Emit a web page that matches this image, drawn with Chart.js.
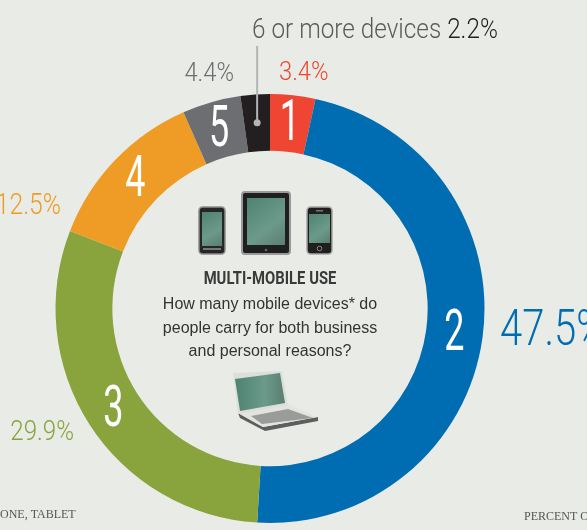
<!DOCTYPE html>
<html>
<head>
<meta charset="utf-8">
<script src="https://cdn.jsdelivr.net/npm/chart.js@4.4.1/dist/chart.umd.min.js"></script>
<style>
  html, body { margin: 0; padding: 0; background: #e9ece6; overflow: hidden; }
  canvas { display: block; }
</style>
</head>
<body>
<canvas id="donut" width="587" height="530"></canvas>
<script>
// number of devices carried, clockwise from the top
var deviceLabels = ["1", "2", "3", "4", "5", "6 or more devices"];
var devicePercent = [3.4, 47.5, 29.9, 12.5, 4.4, 2.2];
var segmentColors = ["#ee4632", "#006db2", "#89a33d", "#ee9c25", "#6d6e71", "#231f20"];

// where the outside percent labels sit (layout only)
var pctSpots = [
    { x: 279, y: 74, align: "left", size: 25, sx: 0.95 },
    { x: 500, y: 332, align: "left", size: 50, sx: 0.8 },
    { x: 74, y: 433, align: "right", size: 28, sx: 0.86 },
    { x: 61, y: 207, align: "right", size: 29, sx: 0.85 },
    { x: 234, y: 75, align: "right", size: 25, sx: 0.95 }
];

var din = "Roboto, 'DejaVu Sans', sans-serif";

// squeeze text sideways so it reads like a condensed face
function condensed(ctx, text, x, y, sx, align) {
    var w = ctx.measureText(text).width * sx;
    var left = x;
    if (align === "center") left = x - w / 2;
    if (align === "right") left = x - w;
    ctx.save();
    ctx.translate(left, y);
    ctx.scale(sx, 1);
    ctx.textAlign = "left";
    ctx.fillText(text, 0, 0);
    ctx.restore();
    return w;
}

function screenGrad(ctx, x1, y1, x2, y2) {
    var g = ctx.createLinearGradient(x1, y1, x2, y2);
    g.addColorStop(0, "#4f8271");
    g.addColorStop(0.6, "#6c9a8a");
    g.addColorStop(1, "#5a7d72");
    return g;
}

function rrect(ctx, x, y, w, h, r) {
    ctx.beginPath();
    ctx.moveTo(x + r, y);
    ctx.lineTo(x + w - r, y);
    ctx.quadraticCurveTo(x + w, y, x + w, y + r);
    ctx.lineTo(x + w, y + h - r);
    ctx.quadraticCurveTo(x + w, y + h, x + w - r, y + h);
    ctx.lineTo(x + r, y + h);
    ctx.quadraticCurveTo(x, y + h, x, y + h - r);
    ctx.lineTo(x, y + r);
    ctx.quadraticCurveTo(x, y, x + r, y);
    ctx.closePath();
}

function poly(ctx, pts, fill) {
    ctx.beginPath();
    ctx.moveTo(pts[0][0], pts[0][1]);
    for (var i = 1; i < pts.length; i++) ctx.lineTo(pts[i][0], pts[i][1]);
    ctx.closePath();
    ctx.fillStyle = fill;
    ctx.fill();
}

function drawDevices(ctx) {
    // left phone
    rrect(ctx, 199, 207, 26, 47, 4);
    ctx.fillStyle = "#262626"; ctx.fill();
    ctx.strokeStyle = "#8d8d8d"; ctx.lineWidth = 1.5; ctx.stroke();
    ctx.fillStyle = screenGrad(ctx, 202, 212, 222, 246);
    ctx.fillRect(202, 212, 20, 34);
    ctx.fillStyle = "#777"; ctx.fillRect(203, 248, 18, 2);

    // tablet
    rrect(ctx, 242, 192, 48, 62, 3);
    ctx.fillStyle = "#1f1f1f"; ctx.fill();
    ctx.strokeStyle = "#9a9a9a"; ctx.lineWidth = 2; ctx.stroke();
    ctx.fillStyle = screenGrad(ctx, 247, 198, 285, 246);
    ctx.fillRect(247, 198, 38, 47);
    ctx.beginPath(); ctx.arc(266, 250, 1.3, 0, Math.PI * 2);
    ctx.fillStyle = "#666"; ctx.fill();

    // right phone
    rrect(ctx, 307, 207, 25, 47, 4);
    ctx.fillStyle = "#1f1f1f"; ctx.fill();
    ctx.strokeStyle = "#a5a5a5"; ctx.lineWidth = 1.5; ctx.stroke();
    ctx.fillStyle = screenGrad(ctx, 309, 214, 330, 243);
    ctx.fillRect(309, 214, 21, 29);
    ctx.fillStyle = "#777"; ctx.fillRect(316, 210, 7, 1.5);
    ctx.beginPath(); ctx.arc(319.5, 248.5, 2.3, 0, Math.PI * 2);
    ctx.strokeStyle = "#888"; ctx.lineWidth = 1; ctx.stroke();

    // laptop
    poly(ctx, [[240, 418], [265, 431], [318, 421], [318, 417], [263, 427], [238, 413]], "#5e5e5e");
    poly(ctx, [[238, 413], [287, 404], [317, 417], [263, 427]], "#e3e4e0");
    poly(ctx, [[251, 416], [288, 409], [313, 418], [262, 424]], "#9a9c99");
    poly(ctx, [[233, 373], [282, 371], [288, 405], [238, 414]], "#dcdedb");
    ctx.beginPath();
    ctx.moveTo(235, 379); ctx.lineTo(280, 373); ctx.lineTo(285, 403); ctx.lineTo(240, 411);
    ctx.closePath();
    ctx.fillStyle = screenGrad(ctx, 235, 390, 285, 390);
    ctx.fill();
}

var ringText = {
    id: "ringText",
    afterDraw: function (chart) {
        var ctx = chart.ctx;
        var arcs = chart.getDatasetMeta(0).data;
        ctx.save();

        drawDevices(ctx);

        // centre text
        ctx.textBaseline = "middle";
        ctx.fillStyle = "#3a3a3a";
        ctx.font = "bold 19px " + din;
        condensed(ctx, "MULTI-MOBILE USE", 270, 279, 0.78, "center");
        ctx.fillStyle = "#333";
        ctx.font = "16px 'Liberation Sans', Arial, sans-serif";
        ctx.textAlign = "center";
        ctx.fillText("How many mobile devices* do", 270, 305);
        ctx.fillText("people carry for both business", 270, 329);
        ctx.fillText("and personal reasons?", 270, 352);

        // numbers in the ring and percents outside
        arcs.forEach(function (arc, i) {
            var p = arc.getProps(["x", "y", "startAngle", "endAngle", "innerRadius", "outerRadius"], true);
            var mid = (p.startAngle + p.endAngle) / 2;
            var r = (p.innerRadius + p.outerRadius) / 2;
            var cx = p.x + Math.cos(mid) * r;
            var cy = p.y + Math.sin(mid) * r;
            if (i < 5) {
                ctx.fillStyle = "#ffffff";
                ctx.font = "58px " + din;
                condensed(ctx, deviceLabels[i], cx, cy + 2, 0.62, "center");
            } else {
                // leader for the thin black slice
                ctx.strokeStyle = "#b4b4b4";
                ctx.lineWidth = 2;
                ctx.beginPath();
                ctx.moveTo(cx, 46);
                ctx.lineTo(cx, cy);
                ctx.stroke();
                ctx.beginPath();
                ctx.arc(cx, cy, 3.5, 0, Math.PI * 2);
                ctx.fillStyle = "#b4b4b4";
                ctx.fill();
            }
            var s = pctSpots[i];
            if (s) {
                ctx.font = "300 " + s.size + "px " + din;
                ctx.fillStyle = segmentColors[i];
                condensed(ctx, devicePercent[i].toFixed(1) + "%", s.x, s.y, s.sx, s.align);
            }
        });

        // top callout for 6+
        ctx.font = "300 27px " + din;
        ctx.fillStyle = "#5a5b5d";
        var w = condensed(ctx, "6 or more devices ", 252, 31, 0.9, "left");
        ctx.fillStyle = "#231f20";
        condensed(ctx, devicePercent[5].toFixed(1) + "%", 252 + w, 31, 0.9, "left");

        // footnote bits at the edges
        ctx.font = "12px 'Liberation Serif', serif";
        ctx.fillStyle = "#555";
        ctx.textAlign = "left";
        ctx.fillText("ONE, TABLET", 0, 515);
        ctx.fillText("PERCENT O", 524, 517);

        ctx.restore();
    }
};

var ctx = document.getElementById("donut").getContext("2d");

var myChart = new Chart(ctx, {
    type: "doughnut",
    data: {
        labels: deviceLabels,
        datasets: [
            {
                data: devicePercent,
                backgroundColor: segmentColors,
                borderWidth: 0
            }
        ]
    },
    options: {
        responsive: false,
        animation: false,
        cutout: "73.5%",
        rotation: 0,
        layout: {
            padding: { left: 55, right: 102, top: 94, bottom: 7 }
        },
        plugins: {
            legend: { display: false },
            tooltip: { enabled: false }
        }
    },
    plugins: [ringText]
});
</script>
</body>
</html>
